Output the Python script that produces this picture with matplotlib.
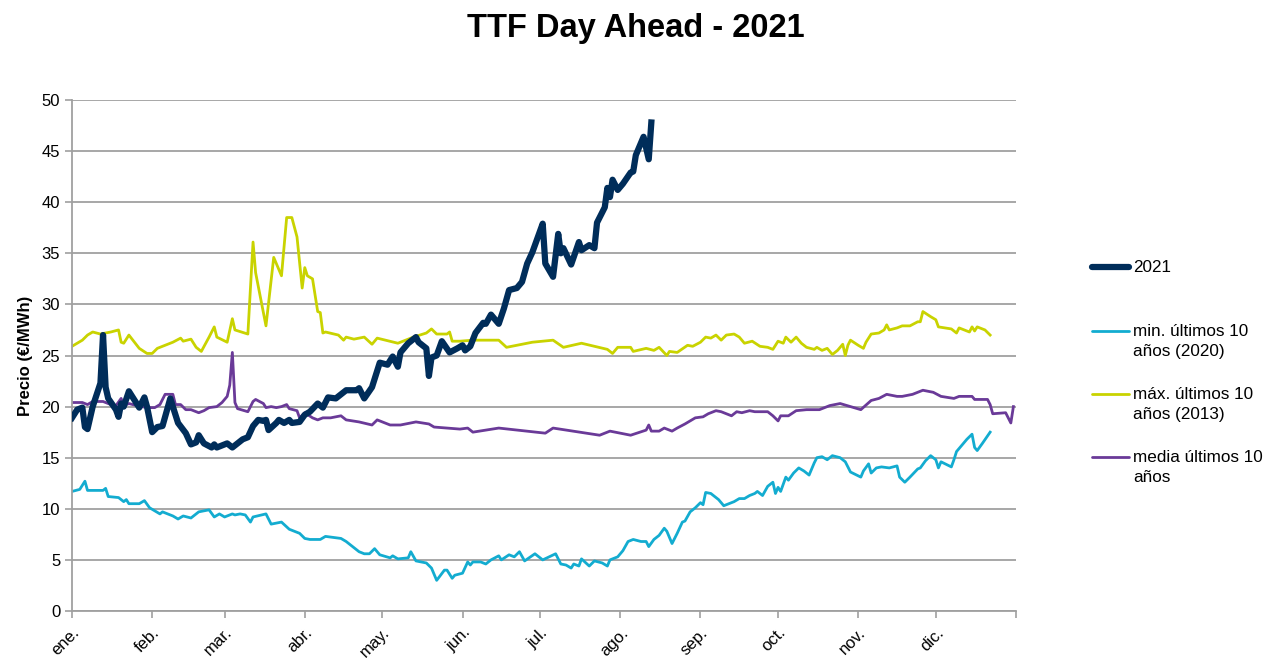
import numpy as np
import matplotlib
matplotlib.use("Agg")
import matplotlib.pyplot as plt
from matplotlib.lines import Line2D

plt.rcParams['font.family'] = ['Liberation Sans', 'DejaVu Sans']

# day offsets from 1 Jan 2021 and prices (EUR/MWh)
d_2021 = [0, 2, 4, 5, 6, 8, 11, 12, 13, 14, 17, 18, 19, 20, 22, 26, 28, 29, 31, 33,
          35, 38, 41, 44, 46, 48, 49, 51, 54, 55, 56, 60, 62, 66, 68, 70, 72, 74, 75, 76,
          79, 80, 82, 84, 85, 88, 90, 92, 95, 97, 99, 102, 106, 110, 111, 113, 116, 119, 122, 124,
          126, 127, 130, 133, 134, 137, 138, 139, 141, 143, 146, 149, 151, 152, 154, 156, 159, 160, 162, 165,
          167, 169, 172, 174, 176, 178, 180, 182, 183, 186, 188, 189, 190, 193, 196, 197, 200, 202, 203, 206,
          207, 208, 209, 211, 213, 216, 217, 218, 221, 223, 224]
v_2021 = [18.9, 19.7, 19.9, 18.0, 17.8, 20.0, 22.3, 27.0, 21.9, 20.8, 19.7, 19.0, 20.3, 20.0, 21.5, 19.9, 20.9, 20.0, 17.5, 18.0,
          18.1, 20.8, 18.4, 17.4, 16.3, 16.5, 17.2, 16.4, 16.0, 16.3, 16.0, 16.4, 16.0, 16.8, 17.0, 18.1, 18.7, 18.6, 18.7, 17.7,
          18.4, 18.7, 18.4, 18.7, 18.4, 18.5, 19.2, 19.5, 20.3, 19.9, 20.9, 20.8, 21.6, 21.6, 21.8, 20.8, 21.9, 24.3, 24.1, 24.9,
          23.9, 25.3, 26.2, 26.8, 26.3, 25.7, 23.0, 24.8, 25.0, 26.4, 25.3, 25.7, 26.0, 25.5, 25.9, 27.2, 28.2, 28.1, 29.0, 28.1,
          29.6, 31.4, 31.6, 32.2, 34.0, 35.1, 36.5, 37.9, 34.0, 32.7, 36.9, 35.0, 35.5, 33.9, 36.1, 35.3, 35.8, 35.5, 38.0, 39.5,
          41.4, 40.5, 42.2, 41.2, 41.8, 42.9, 43.0, 44.6, 46.4, 44.2, 47.8]

d_min = [0, 3, 5, 6, 12, 13, 14, 18, 20, 21, 22, 26, 28, 30, 32, 34, 35, 39, 41, 43,
         46, 49, 53, 55, 57, 59, 62, 63, 65, 67, 69, 70, 75, 77, 81, 84, 88, 90, 92, 96,
         98, 104, 106, 111, 113, 115, 117, 119, 123, 124, 126, 130, 131, 133, 137, 139, 141, 144, 145, 147,
         148, 151, 153, 154, 155, 158, 160, 162, 165, 166, 169, 171, 173, 175, 179, 182, 187, 189, 191, 193,
         194, 196, 197, 200, 202, 205, 207, 208, 211, 213, 215, 217, 220, 222, 223, 225, 227, 229, 230, 232,
         234, 236, 237, 239, 241, 243, 244, 245, 247, 250, 252, 255, 256, 258, 260, 262, 264, 265, 267, 269,
         271, 272, 273, 274, 276, 277, 279, 281, 283, 285, 287, 288, 290, 292, 294, 297, 299, 301, 305, 306,
         308, 309, 311, 313, 316, 319, 320, 322, 324, 327, 328, 330, 332, 334, 335, 336, 340, 341, 342, 344,
         346, 348, 349, 350, 352, 355]
v_min = [11.7, 11.9, 12.7, 11.8, 11.8, 12.0, 11.2, 11.1, 10.7, 10.9, 10.5, 10.5, 10.8, 10.1, 9.8, 9.5, 9.7, 9.3, 9.0, 9.3,
         9.1, 9.7, 9.9, 9.2, 9.5, 9.2, 9.5, 9.4, 9.5, 9.4, 8.7, 9.2, 9.5, 8.5, 8.7, 8.0, 7.6, 7.1, 7.0, 7.0,
         7.3, 7.1, 6.8, 5.8, 5.6, 5.6, 6.1, 5.5, 5.2, 5.4, 5.1, 5.2, 5.8, 4.9, 4.7, 4.2, 3.0, 4.0, 4.0, 3.2,
         3.5, 3.7, 4.8, 4.5, 4.8, 4.8, 4.6, 5.0, 5.4, 5.0, 5.5, 5.3, 5.8, 4.9, 5.6, 5.0, 5.6, 4.6, 4.5, 4.2,
         4.6, 4.4, 5.1, 4.4, 4.9, 4.7, 4.4, 5.0, 5.3, 5.9, 6.8, 7.0, 6.8, 6.8, 6.3, 7.0, 7.4, 8.1, 7.8, 6.6,
         7.6, 8.7, 8.8, 9.7, 10.1, 10.6, 10.4, 11.6, 11.5, 10.9, 10.3, 10.6, 10.7, 11.0, 11.0, 11.3, 11.5, 11.7, 11.3, 12.2,
         12.6, 11.5, 12.1, 11.7, 13.1, 12.8, 13.5, 14.0, 13.7, 13.3, 14.5, 15.0, 15.1, 14.8, 15.2, 15.0, 14.6, 13.6, 13.1, 13.7,
         14.4, 13.5, 14.0, 14.1, 14.0, 14.2, 13.1, 12.6, 13.1, 13.9, 14.0, 14.7, 15.2, 14.8, 14.0, 14.6, 14.1, 14.8, 15.6, 16.2,
         16.8, 17.3, 16.0, 15.7, 16.4, 17.5]

d_max = [0, 4, 6, 8, 11, 15, 18, 19, 20, 22, 26, 29, 31, 33, 36, 39, 42, 43, 46, 48,
         50, 53, 55, 56, 60, 62, 63, 68, 70, 71, 75, 78, 81, 83, 85, 87, 89, 90, 91, 93,
         95, 96, 97, 98, 103, 105, 106, 109, 113, 116, 118, 126, 132, 137, 139, 141, 145, 146, 147, 150,
         155, 165, 168, 178, 186, 190, 197, 207, 209, 211, 216, 217, 222, 225, 227, 230, 231, 234, 238, 240,
         243, 245, 247, 249, 251, 253, 256, 258, 260, 263, 266, 269, 271, 273, 275, 276, 278, 280, 282, 284,
         287, 288, 290, 292, 294, 296, 298, 299, 300, 301, 304, 306, 307, 309, 312, 314, 315, 316, 319, 321,
         324, 327, 328, 329, 332, 334, 335, 340, 342, 343, 345, 347, 348, 349, 350, 353, 355]
v_max = [25.9, 26.5, 27.0, 27.3, 27.1, 27.3, 27.5, 26.3, 26.2, 27.0, 25.7, 25.2, 25.2, 25.7, 26.0, 26.3, 26.7, 26.4, 26.6, 25.8,
         25.4, 26.8, 27.8, 26.8, 26.3, 28.6, 27.5, 27.1, 36.1, 33.1, 27.9, 34.6, 32.8, 38.5, 38.5, 36.6, 31.6, 33.6, 32.8, 32.5,
         29.3, 29.2, 27.2, 27.3, 27.0, 26.5, 26.8, 26.6, 26.8, 26.1, 26.7, 26.2, 26.8, 27.2, 27.6, 27.1, 27.1, 27.3, 26.4, 26.4,
         26.5, 26.5, 25.8, 26.3, 26.5, 25.8, 26.2, 25.6, 25.2, 25.8, 25.8, 25.4, 25.7, 25.5, 25.8, 25.0, 25.4, 25.3, 26.0, 25.9,
         26.3, 26.8, 26.7, 27.0, 26.5, 27.0, 27.1, 26.8, 26.2, 26.4, 25.9, 25.8, 25.6, 26.4, 26.2, 26.8, 26.3, 26.8, 26.2, 25.8,
         25.6, 25.8, 25.5, 25.7, 25.1, 25.5, 26.1, 25.0, 26.0, 26.5, 26.0, 25.7, 26.3, 27.1, 27.2, 27.5, 28.0, 27.5, 27.7, 27.9,
         27.9, 28.3, 28.3, 29.3, 28.8, 28.5, 27.8, 27.6, 27.2, 27.7, 27.5, 27.3, 27.8, 27.4, 27.8, 27.5, 27.0]

d_media = [0, 4, 6, 8, 12, 15, 17, 19, 20, 22, 25, 29, 32, 34, 36, 39, 40, 42, 44, 46,
           49, 51, 53, 56, 58, 60, 61, 62, 63, 64, 68, 70, 71, 74, 75, 77, 79, 81, 83, 84,
           87, 88, 90, 93, 95, 97, 100, 104, 106, 111, 116, 118, 123, 127, 131, 133, 138, 140, 150, 153,
           155, 165, 183, 186, 204, 208, 216, 222, 223, 224, 227, 229, 232, 234, 237, 241, 244, 246, 249, 251,
           255, 257, 259, 262, 264, 269, 271, 273, 274, 277, 280, 284, 289, 293, 297, 301, 305, 309, 312, 315,
           319, 321, 325, 329, 333, 336, 341, 343, 348, 349, 354, 355, 356, 361, 363, 364]
v_media = [20.4, 20.4, 20.2, 20.5, 20.5, 20.2, 20.1, 20.8, 20.1, 20.3, 20.1, 19.9, 19.9, 20.2, 21.2, 21.2, 20.2, 20.2, 19.7, 19.7,
           19.4, 19.6, 19.9, 20.0, 20.4, 21.0, 22.1, 25.3, 20.4, 19.8, 19.5, 20.5, 20.7, 20.3, 19.9, 20.0, 19.9, 20.0, 20.2, 19.8,
           19.6, 18.9, 19.4, 18.9, 18.7, 18.9, 18.9, 19.1, 18.7, 18.5, 18.2, 18.7, 18.2, 18.2, 18.4, 18.5, 18.3, 18.0, 17.8, 17.9,
           17.5, 17.9, 17.4, 17.9, 17.2, 17.6, 17.2, 17.7, 18.2, 17.6, 17.6, 17.9, 17.6, 17.9, 18.3, 18.9, 19.0, 19.3, 19.6, 19.5,
           19.1, 19.5, 19.4, 19.6, 19.5, 19.5, 19.1, 18.6, 19.1, 19.1, 19.6, 19.7, 19.7, 20.1, 20.3, 20.0, 19.7, 20.6, 20.8, 21.2,
           21.0, 21.0, 21.2, 21.6, 21.4, 21.0, 20.8, 21.0, 21.0, 20.7, 20.7, 20.2, 19.3, 19.4, 18.4, 20.0]

month_labels = ['ene.', 'feb.', 'mar.', 'abr.', 'may.', 'jun.', 'jul.', 'ago.',
                'sep.', 'oct.', 'nov.', 'dic.', '']

series = [
    ('2021', d_2021, v_2021, '#002d5a', 4.5),
    ('min. últimos 10\naños (2020)', d_min, v_min, '#13acd0', 2.0),
    ('máx. últimos 10\naños (2013)', d_max, v_max, '#c9d300', 2.0),
    ('media últimos 10\naños', d_media, v_media, '#6a3a98', 2.0),
]

start = np.datetime64('2021-01-01')

fig = plt.figure(figsize=(12.74, 6.6), dpi=100)
ax = fig.add_axes([72 / 1274, 1 - 611 / 660, (1016 - 72) / 1274, (611 - 100) / 660])

# draw order: reference lines first, 2021 on top
for name, d, v, col, lw in series[1:] + series[:1]:
    x = start + np.array(d).astype('timedelta64[D]')
    ax.plot(x, v, color=col, lw=lw, solid_joinstyle='round', zorder=3 if name == '2021' else 2)

ax.set_ylim(0, 50)
ax.set_yticks(np.arange(0, 51, 5))
ax.set_xlim(start, np.datetime64('2022-01-01'))
ticks = [np.datetime64('2021-%02d-01' % m) for m in range(1, 13)] + [np.datetime64('2022-01-01')]
ax.set_xticks(ticks)
ax.set_xticklabels(month_labels, rotation=45, ha='right', rotation_mode='anchor')

ax.grid(axis='y', color='#a0a0a0', lw=1.3)
ax.set_axisbelow(True)
for s in ['top', 'right']:
    ax.spines[s].set_visible(False)
for s in ['left', 'bottom']:
    ax.spines[s].set_color('#a0a0a0')
    ax.spines[s].set_linewidth(1.3)
ax.tick_params(axis='both', colors='#a0a0a0', labelcolor='black', labelsize=12, length=5, width=1.2)
ax.tick_params(axis='x', pad=5)

ax.set_ylabel('Precio (€/MWh)', fontsize=12, fontweight='bold', labelpad=6)
fig.text(636 / 1274, 1 - 28 / 660, 'TTF Day Ahead - 2021', ha='center', va='center',
         fontsize=23.5, fontweight='bold')

# legend on the right, handles aligned with the first text line
leg_y = [267, 331, 394, 457]
for (name, d, v, col, lw), y in zip(series, leg_y):
    fy = 1 - y / 660
    fig.add_artist(Line2D([1092 / 1274, 1129 / 1274], [fy, fy], color=col, lw=lw,
                          solid_capstyle='round'))
    fig.text(1133 / 1274, fy + 7 / 660, name, ha='left', va='top', fontsize=12.3,
             linespacing=1.42)

plt.savefig('out.png', dpi=100)
